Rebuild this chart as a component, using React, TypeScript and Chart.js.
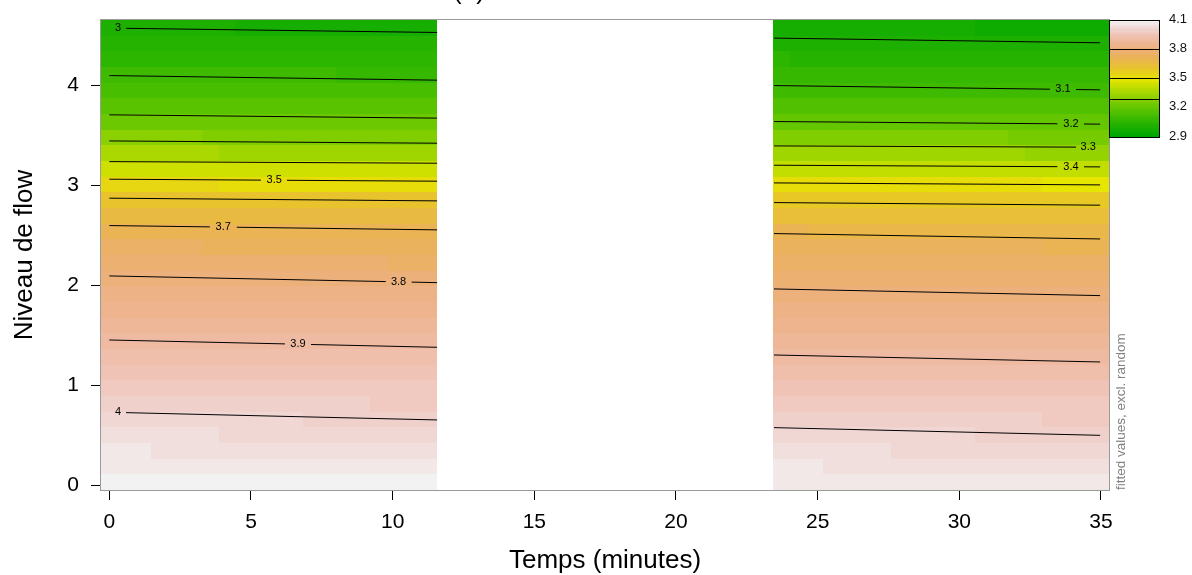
import React, { useEffect, useRef } from "react";
import { Chart, registerables } from "chart.js";

Chart.register(...registerables);

const FONT = "'Liberation Sans', Arial, Helvetica, sans-serif";

// ---- axes ----
const xTicks = [0, 5, 10, 15, 20, 25, 30, 35];
const yTicks = [0, 1, 2, 3, 4];
const xLimits = [-0.293, 35.283];
const yLimits = [-0.05, 4.653];
const xTitle = "Temps (minutes)";
const yTitle = "Niveau de flow";
const sideNote = "fitted values, excl. random";
const mainTitle = "(a)";

// ---- grid of the fitted surface ----
const nCellsX = 60;
const nCellsY = 30;
const noDataFrom = 11.57; // minutes without observations
const noDataTo = 23.46;

// ---- contour lines: level and y (Niveau de flow) at both ends of each data block ----
const contourLevels = [3.0, 3.1, 3.2, 3.3, 3.4, 3.5, 3.6, 3.7, 3.8, 3.9, 4.0];
const blockX = [0, 11.57, 23.46, 34.97];
const yLeftStart = [4.572, 4.097, 3.704, 3.443, 3.236, 3.06, 2.87, 2.596, 2.092, 1.451, 0.728];
const yLeftEnd = [4.528, 4.051, 3.671, 3.42, 3.22, 3.04, 2.843, 2.553, 2.025, 1.378, 0.651];
const yRightStart = [4.472, 3.997, 3.637, 3.393, 3.2, 3.023, 2.826, 2.516, 1.962, 1.301, 0.574];
const yRightEnd = [4.425, 3.954, 3.611, 3.38, 3.183, 3.003, 2.8, 2.462, 1.895, 1.231, 0.497];

// ---- contour labels ----
const labelText = ["3", "3.5", "3.7", "3.8", "3.9", "4", "3.1", "3.2", "3.3", "3.4"];
const labelLevel = [3.0, 3.5, 3.7, 3.8, 3.9, 4.0, 3.1, 3.2, 3.3, 3.4];
const labelX = [0.31, 5.82, 4.02, 10.21, 6.66, 0.31, 33.66, 33.94, 34.55, 33.94];
const labelGapFrom = [0, 5.35, 3.55, 9.76, 6.2, 0, 33.2, 33.46, 34.12, 33.46];
const labelGapTo = [0.59, 6.27, 4.5, 10.67, 7.12, 0.59, 34.12, 34.4, 35, 34.4];

// ---- colour key ----
const zLimits = [2.9, 4.1];
const nColors = 50;
const keyTicks = [4.1, 3.8, 3.5, 3.2, 2.9];
const keyLines = [3.8, 3.5, 3.29];

// R's hsv() and terrain.colors()
function hsv(h: number, s: number, v: number): string {
  const i = Math.floor(h * 6) % 6;
  const f = h * 6 - Math.floor(h * 6);
  const p = v * (1 - s);
  const q = v * (1 - f * s);
  const t = v * (1 - (1 - f) * s);
  let r = 0, g = 0, b = 0;
  switch (i) {
    case 0: r = v; g = t; b = p; break;
    case 1: r = q; g = v; b = p; break;
    case 2: r = p; g = v; b = t; break;
    case 3: r = p; g = q; b = v; break;
    case 4: r = t; g = p; b = v; break;
    default: r = v; g = p; b = q; break;
  }
  const c = (x: number) => Math.round(255 * x);
  return `rgb(${c(r)},${c(g)},${c(b)})`;
}

function terrainColors(n: number): string[] {
  const k = Math.floor(n / 2);
  const cols: string[] = [];
  for (let i = 0; i < k; i++) {
    const f = k > 1 ? i / (k - 1) : 0;
    cols.push(hsv(4 / 12 + (2 / 12 - 4 / 12) * f, 1, 0.65 + 0.25 * f));
  }
  const m = n - k + 1;
  for (let i = 1; i < m; i++) {
    const f = i / (m - 1);
    cols.push(hsv(2 / 12 - (2 / 12) * f, 1 - f, 0.9 + 0.05 * f));
  }
  return cols;
}

const palette = terrainColors(nColors);

function colorFor(z: number): string {
  let idx = Math.floor(((z - zLimits[0]) / (zLimits[1] - zLimits[0])) * nColors);
  idx = Math.max(0, Math.min(nColors - 1, idx));
  return palette[idx];
}

function contourYsAt(x: number): number[] {
  const left = x < (blockX[1] + blockX[2]) / 2;
  const xa = left ? blockX[0] : blockX[2];
  const xb = left ? blockX[1] : blockX[3];
  const ya = left ? yLeftStart : yRightStart;
  const yb = left ? yLeftEnd : yRightEnd;
  const t = (x - xa) / (xb - xa);
  return contourLevels.map((_, k) => ya[k] + t * (yb[k] - ya[k]));
}

function surfaceAt(x: number, y: number): number {
  const ys = contourYsAt(x);
  const L = contourLevels;
  const n = L.length;
  if (y >= ys[0]) return L[0] - ((y - ys[0]) / (ys[0] - ys[1])) * (L[1] - L[0]);
  if (y <= ys[n - 1]) return L[n - 1] + ((ys[n - 1] - y) / (ys[n - 2] - ys[n - 1])) * (L[n - 1] - L[n - 2]);
  for (let k = 0; k < n - 1; k++) {
    if (y <= ys[k] && y >= ys[k + 1]) {
      return L[k] + ((ys[k] - y) / (ys[k] - ys[k + 1])) * (L[k + 1] - L[k]);
    }
  }
  return L[n - 1];
}

type Pt = { x: number; y: number | null };

function segmentPoints(x0: number, x1: number, y0: number, y1: number, gaps: [number, number][]): Pt[] {
  const yAt = (x: number) => y0 + ((x - x0) / (x1 - x0)) * (y1 - y0);
  const pts: Pt[] = [];
  let cur = x0;
  const list = gaps.filter((g) => g[1] > x0 && g[0] < x1).sort((a, b) => a[0] - b[0]);
  for (const [g0, g1] of list) {
    const a = Math.max(g0, x0);
    if (a > cur) {
      pts.push({ x: cur, y: yAt(cur) }, { x: a, y: yAt(a) }, { x: (a + Math.min(g1, x1)) / 2, y: null });
    }
    cur = Math.min(g1, x1);
  }
  if (cur < x1) pts.push({ x: cur, y: yAt(cur) }, { x: x1, y: yAt(x1) });
  return pts;
}

function contourData(k: number): Pt[] {
  const lvl = contourLevels[k];
  const gaps: [number, number][] = [];
  labelLevel.forEach((l, i) => {
    if (Math.abs(l - lvl) < 1e-9) gaps.push([labelGapFrom[i], labelGapTo[i]]);
  });
  const left = segmentPoints(blockX[0], blockX[1], yLeftStart[k], yLeftEnd[k], gaps);
  const right = segmentPoints(blockX[2], blockX[3], yRightStart[k], yRightEnd[k], gaps);
  return [...left, { x: (blockX[1] + blockX[2]) / 2, y: null }, ...right];
}

const surfacePlugin = {
  id: "surface",
  beforeDatasetsDraw(chart: any) {
    const { ctx, chartArea, scales } = chart;
    const xs = scales.x;
    const ys = scales.y;
    const dx = (xLimits[1] - xLimits[0]) / nCellsX;
    const dy = (yLimits[1] - yLimits[0]) / nCellsY;
    ctx.save();
    ctx.beginPath();
    ctx.rect(chartArea.left, chartArea.top, chartArea.right - chartArea.left, chartArea.bottom - chartArea.top);
    ctx.clip();
    for (let i = 0; i < nCellsX; i++) {
      const xc = xLimits[0] + (i + 0.5) * dx;
      if (xc > noDataFrom && xc < noDataTo) continue;
      const px0 = Math.round(xs.getPixelForValue(xLimits[0] + i * dx));
      const px1 = Math.round(xs.getPixelForValue(xLimits[0] + (i + 1) * dx));
      for (let j = 0; j < nCellsY; j++) {
        const yc = yLimits[0] + (j + 0.5) * dy;
        const py0 = Math.round(ys.getPixelForValue(yLimits[0] + j * dy));
        const py1 = Math.round(ys.getPixelForValue(yLimits[0] + (j + 1) * dy));
        ctx.fillStyle = colorFor(surfaceAt(xc, yc));
        ctx.fillRect(px0, py1, px1 - px0, py0 - py1);
      }
    }
    ctx.restore();
  },
  afterDatasetsDraw(chart: any) {
    const { ctx, chartArea, scales } = chart;
    const xs = scales.x;
    const ys = scales.y;
    // contour labels
    ctx.save();
    ctx.fillStyle = "#000";
    ctx.font = `11px ${FONT}`;
    ctx.textAlign = "center";
    ctx.textBaseline = "middle";
    labelText.forEach((txt, i) => {
      const k = contourLevels.findIndex((l) => Math.abs(l - labelLevel[i]) < 1e-9);
      const yv = contourYsAt(labelX[i])[k];
      ctx.fillText(txt, xs.getPixelForValue(labelX[i]), ys.getPixelForValue(yv));
    });
    ctx.restore();
    // plot box
    ctx.save();
    ctx.strokeStyle = "#9a9a9a";
    ctx.lineWidth = 1;
    ctx.strokeRect(chartArea.left - 0.5, chartArea.top - 0.5, chartArea.right - chartArea.left + 1, chartArea.bottom - chartArea.top + 1);
    ctx.restore();
  },
  afterDraw(chart: any) {
    const { ctx, chartArea } = chart;
    // colour key
    const kx0 = chartArea.right;
    const kx1 = kx0 + 50;
    const ky0 = chartArea.top;
    const ky1 = ky0 + 117;
    const yOf = (v: number) => ky1 - ((v - zLimits[0]) / (zLimits[1] - zLimits[0])) * (ky1 - ky0);
    ctx.save();
    for (let i = 0; i < nColors; i++) {
      const z0 = zLimits[0] + (i * (zLimits[1] - zLimits[0])) / nColors;
      const z1 = zLimits[0] + ((i + 1) * (zLimits[1] - zLimits[0])) / nColors;
      const a = Math.round(yOf(z1));
      const b = Math.round(yOf(z0));
      ctx.fillStyle = palette[i];
      ctx.fillRect(kx0, a, kx1 - kx0, b - a);
    }
    ctx.strokeStyle = "#000";
    ctx.lineWidth = 1;
    keyLines.forEach((v) => {
      const y = Math.round(yOf(v)) + 0.5;
      ctx.beginPath();
      ctx.moveTo(kx0, y);
      ctx.lineTo(kx1, y);
      ctx.stroke();
    });
    ctx.strokeRect(kx0 + 0.5, ky0 + 0.5, kx1 - kx0, ky1 - ky0);
    ctx.fillStyle = "#111";
    ctx.font = `13px ${FONT}`;
    ctx.textAlign = "left";
    ctx.textBaseline = "middle";
    keyTicks.forEach((v) => {
      ctx.fillText(String(v), kx1 + 10, yOf(v) - 1);
    });
    // side note
    ctx.translate(chartArea.right + 12, chartArea.bottom);
    ctx.rotate(-Math.PI / 2);
    ctx.fillStyle = "#7f7f7f";
    ctx.font = `13.5px ${FONT}`;
    ctx.textAlign = "left";
    ctx.textBaseline = "middle";
    ctx.fillText(sideNote, 0, 0);
    ctx.restore();
    // (cut-off) main title
    ctx.save();
    ctx.fillStyle = "#000";
    ctx.font = `26px ${FONT}`;
    ctx.textAlign = "center";
    ctx.textBaseline = "alphabetic";
    ctx.fillText(mainTitle, 469, -1);
    ctx.restore();
  },
};

export default function App() {
  const ref = useRef<HTMLCanvasElement>(null);
  useEffect(() => {
    const canvas = ref.current;
    if (!canvas) return;
    const datasets = contourLevels.map((lvl, k) => ({
      label: String(lvl),
      data: contourData(k),
      showLine: true,
      borderColor: "#000",
      borderWidth: 1,
      pointRadius: 0,
      pointHoverRadius: 0,
      spanGaps: false,
      fill: false,
    }));
    const chart = new Chart(canvas, {
      type: "scatter",
      data: { datasets },
      plugins: [surfacePlugin],
      options: {
        animation: false,
        responsive: false,
        devicePixelRatio: 1,
        events: [],
        layout: { padding: { top: 20, right: 83, left: 0, bottom: 0 } },
        plugins: { legend: { display: false }, tooltip: { enabled: false }, title: { display: false } },
        scales: {
          x: {
            type: "linear",
            min: xLimits[0],
            max: xLimits[1],
            afterBuildTicks: (s: any) => {
              s.ticks = xTicks.map((v) => ({ value: v }));
            },
            afterFit: (s: any) => {
              s.height = 85;
              s.paddingLeft = 0;
              s.paddingRight = 0;
            },
            grid: { drawOnChartArea: false, drawTicks: true, tickLength: 10, color: "#000", lineWidth: 1 },
            border: { display: false },
            ticks: {
              color: "#000",
              font: { family: FONT, size: 21 },
              padding: 10,
              maxRotation: 0,
              autoSkip: false,
              callback: (v: any) => String(v),
            },
            title: {
              display: true,
              text: xTitle,
              color: "#000",
              font: { family: FONT, size: 26, lineHeight: 1.1 },
              padding: { top: 0, bottom: 0 },
            },
          },
          y: {
            type: "linear",
            min: yLimits[0],
            max: yLimits[1],
            afterBuildTicks: (s: any) => {
              s.ticks = yTicks.map((v) => ({ value: v }));
            },
            afterFit: (s: any) => {
              s.width = 101;
              s.paddingTop = 0;
              s.paddingBottom = 0;
            },
            grid: { drawOnChartArea: false, drawTicks: true, tickLength: 10, color: "#000", lineWidth: 1 },
            border: { display: false },
            ticks: {
              color: "#000",
              font: { family: FONT, size: 21 },
              padding: 12,
              autoSkip: false,
              callback: (v: any) => String(v),
            },
            title: {
              display: true,
              text: yTitle,
              color: "#000",
              font: { family: FONT, size: 26, lineHeight: 1.2 },
              padding: { top: 9, bottom: 0 },
            },
          },
        },
      } as any,
    });
    return () => chart.destroy();
  }, []);
  return (
    <div style={{ position: "absolute", left: 0, top: 0, width: 1192, height: 575 }}>
      <canvas ref={ref} width={1192} height={575} style={{ display: "block" }} />
    </div>
  );
}
